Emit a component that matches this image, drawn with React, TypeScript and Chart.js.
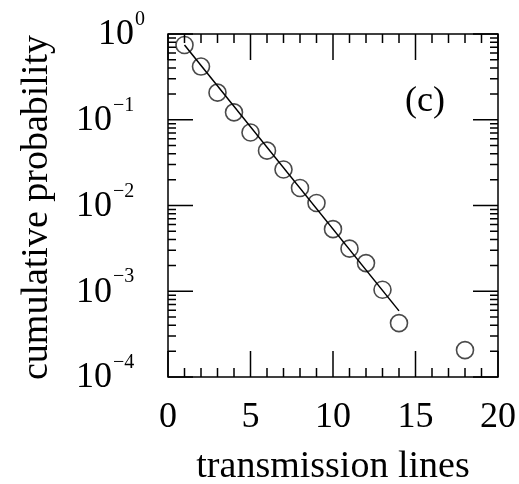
import React, { useEffect, useRef } from "react";
import { Chart, registerables } from "chart.js";

Chart.register(...registerables);

const xValues = [1, 2, 3, 4, 5, 6, 7, 8, 9, 10, 11, 12, 13, 14, 18];
const yValues = [0.745, 0.417, 0.207, 0.122, 0.0711, 0.0436, 0.0263, 0.016, 0.0107, 0.0053, 0.00314, 0.00213, 0.00104, 0.000425, 0.000206];
const fitX = [1, 14];
const fitY = [0.745, 0.00059];
const xTickLabels = [0, 5, 10, 15, 20];
const yExponents = [0, -1, -2, -3, -4];
const xTitle = "transmission lines";
const yTitle = "cumulative probability";
const panelLabel = "(c)";

const FONT = '"Liberation Serif", "Times New Roman", serif';

const axesPlugin = {
  id: "sciAxes",
  afterDraw(chart: any) {
    const { ctx, chartArea } = chart;
    const xs = chart.scales.x;
    const ys = chart.scales.y;
    const { left, right, top, bottom } = chartArea;
    ctx.save();
    ctx.strokeStyle = "#000";
    ctx.fillStyle = "#000";
    ctx.lineWidth = 1.5;
    ctx.strokeRect(left, top, right - left, bottom - top);

    // x ticks
    for (let v = 0; v <= 20; v++) {
      const px = xs.getPixelForValue(v);
      const len = v % 5 === 0 ? 26 : 9;
      ctx.beginPath();
      ctx.moveTo(px, bottom);
      ctx.lineTo(px, bottom - len);
      ctx.moveTo(px, top);
      ctx.lineTo(px, top + len);
      ctx.stroke();
    }
    // y ticks
    for (const e of yExponents) {
      const py = ys.getPixelForValue(Math.pow(10, e));
      ctx.beginPath();
      ctx.moveTo(left, py);
      ctx.lineTo(left + 25, py);
      ctx.moveTo(right, py);
      ctx.lineTo(right - 25, py);
      ctx.stroke();
      if (e < 0) {
        for (let m = 2; m <= 9; m++) {
          const pm = ys.getPixelForValue(m * Math.pow(10, e));
          ctx.beginPath();
          ctx.moveTo(left, pm);
          ctx.lineTo(left + 8, pm);
          ctx.moveTo(right, pm);
          ctx.lineTo(right - 8, pm);
          ctx.stroke();
        }
      }
    }

    // x tick labels
    ctx.font = `36px ${FONT}`;
    ctx.textAlign = "center";
    ctx.textBaseline = "middle";
    for (const v of xTickLabels) {
      ctx.fillText(String(v), xs.getPixelForValue(v), 418);
    }

    // y tick labels with superscripts
    for (const e of yExponents) {
      const py = ys.getPixelForValue(Math.pow(10, e));
      const x0 = e === 0 ? 98 : 76;
      ctx.font = `36px ${FONT}`;
      ctx.textAlign = "left";
      ctx.textBaseline = "middle";
      ctx.fillText("10", x0, py + 1);
      const w = ctx.measureText("10").width;
      ctx.font = `20px ${FONT}`;
      ctx.textBaseline = "alphabetic";
      const sup = e === 0 ? "0" : "\u2212" + String(-e);
      ctx.fillText(sup, x0 + w + 1, py - 9);
    }

    // axis titles
    ctx.font = `38px ${FONT}`;
    ctx.textAlign = "center";
    ctx.textBaseline = "alphabetic";
    ctx.fillText(xTitle, (left + right) / 2, 477);
    ctx.save();
    ctx.translate(47, (top + bottom) / 2 + 2);
    ctx.rotate(-Math.PI / 2);
    ctx.fillText(yTitle, 0, 0);
    ctx.restore();

    // panel label
    ctx.font = `36px ${FONT}`;
    ctx.fillText(panelLabel, 425, 111);
    ctx.restore();
  },
};

export default function App() {
  const ref = useRef<HTMLCanvasElement>(null);
  useEffect(() => {
    if (!ref.current) return;
    const chart = new Chart(ref.current, {
      type: "scatter",
      data: {
        datasets: [
          {
            type: "line",
            data: fitX.map((x, i) => ({ x, y: fitY[i] })),
            borderColor: "#000",
            borderWidth: 1.5,
            pointRadius: 0,
            fill: false,
          } as any,
          {
            data: xValues.map((x, i) => ({ x, y: yValues[i] })),
            pointStyle: "circle",
            pointRadius: 8.5,
            pointBorderWidth: 1.6,
            pointBorderColor: "#4a4a4a",
            pointBackgroundColor: "rgba(0,0,0,0)",
            showLine: false,
          },
        ],
      },
      options: {
        responsive: false,
        animation: false,
        devicePixelRatio: 1,
        layout: { padding: { left: 168, right: 21, top: 34, bottom: 107 } },
        plugins: { legend: { display: false }, tooltip: { enabled: false } },
        scales: {
          x: { type: "linear", min: 0, max: 20, display: false },
          y: { type: "logarithmic", min: 1e-4, max: 1, display: false },
        },
      },
      plugins: [axesPlugin],
    });
    return () => chart.destroy();
  }, []);
  return (
    <div style={{ position: "fixed", left: 0, top: 0, width: 519, height: 484, background: "#fff" }}>
      <canvas ref={ref} width={519} height={484} />
    </div>
  );
}
